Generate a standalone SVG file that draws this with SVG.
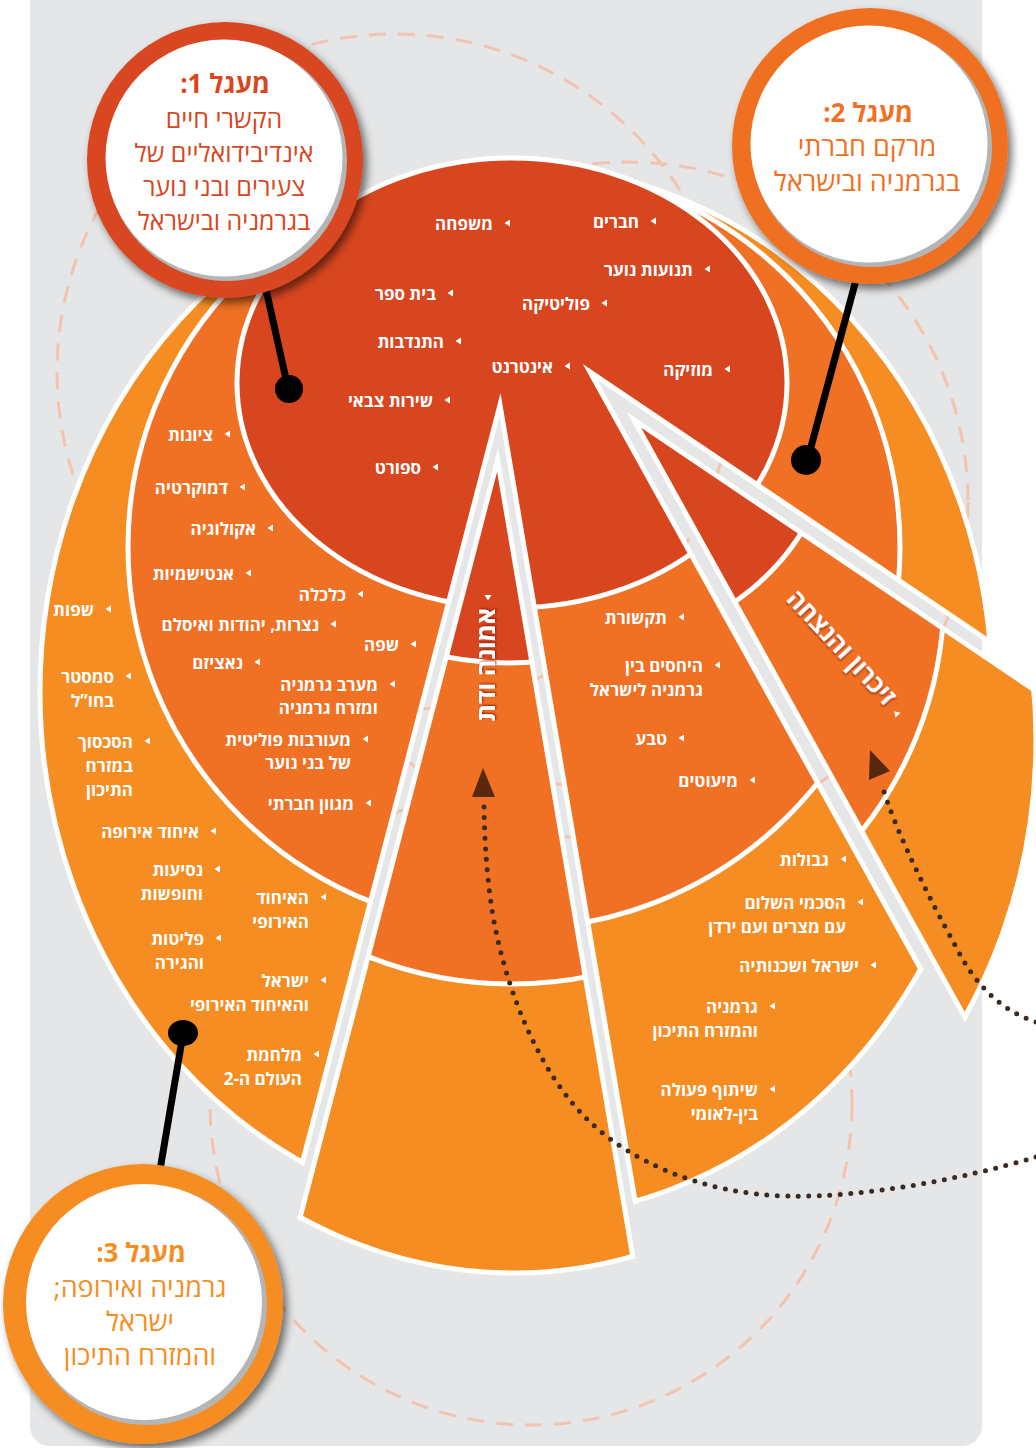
<svg xmlns="http://www.w3.org/2000/svg" width="1036" height="1448" viewBox="0 0 1036 1448">
<defs>
<style>
.t{font-family:'Open Sans','Liberation Sans','DejaVu Sans',sans-serif;font-weight:700;font-size:17px;fill:#fff;direction:rtl;text-anchor:start}
.dash{fill:none;stroke:#F2C4AF;stroke-width:3;stroke-dasharray:17 12}
.ring{stroke:#fff;stroke-width:5}
.edge{fill:none;stroke:#fff;stroke-width:5;stroke-linejoin:miter;stroke-miterlimit:20}
.dots{fill:none;stroke:#3B2A22;stroke-width:5;stroke-linecap:round;stroke-dasharray:0 10.5}
.pin{stroke:#000;stroke-width:7}
.bt{font-family:'Open Sans','Liberation Sans','DejaVu Sans',sans-serif;text-anchor:middle;direction:rtl}
.wl{font-family:'Open Sans','Liberation Sans','DejaVu Sans',sans-serif;font-weight:700;font-size:25px;fill:#fff;direction:rtl;text-anchor:start}
</style>
<clipPath id="bodyclip"><path clip-rule="evenodd" d="M0,0H1036V1448H0Z M500,405L228,1448L677,1448Z M590,372L1100,716L1186,1448Z"/></clipPath>
<clipPath id="n1"><path d="M500,405L228,1448L677,1448Z"/></clipPath>
<clipPath id="n2"><path d="M590,372L1100,716L1186,1448Z"/></clipPath>
<clipPath id="oe"><ellipse cx="516" cy="692" rx="479" ry="529"/></clipPath>
<g id="ells">
<ellipse cx="516" cy="692" rx="476" ry="526" fill="#F58D22" class="ring"/>
<ellipse cx="514" cy="547" rx="386" ry="382" fill="#F07024" class="ring"/>
<ellipse cx="512" cy="383" rx="275" ry="225" fill="#D84620" class="ring"/>
</g>
<path id="bul" d="M3,-3.5V3.5L-2.5,0Z" fill="#fff"/>
<filter id="sh" x="-20%" y="-20%" width="150%" height="150%"><feDropShadow dx="4" dy="5" stdDeviation="4" flood-color="#000" flood-opacity="0.55"/></filter>
<filter id="ts" x="-10%" y="-30%" width="120%" height="160%"><feDropShadow dx="1" dy="1" stdDeviation="0.8" flood-color="#7a1800" flood-opacity="0.9"/></filter>
</defs>

<rect x="30" y="-30" width="952" height="1476" rx="20" fill="#E5E6E7"/>

<g id="dashed-circles">
<circle class="dash" cx="395" cy="372" r="338"/>
<circle class="dash" cx="628" cy="502" r="340"/>
<circle class="dash" cx="531" cy="1104" r="321"/>
</g>

<g id="body">
<g clip-path="url(#bodyclip)"><use href="#ells"/></g>
<g clip-path="url(#oe)">
<path class="edge" d="M228,1448L500,405L677,1448"/>
<path class="edge" d="M1100,716L590,372L1186,1448"/>
</g>
</g>

<g id="wedge-faith" transform="translate(-2.4,55)">
<g clip-path="url(#n1)"><use href="#ells"/></g>
<g clip-path="url(#oe)"><path class="edge" d="M228,1448L500,405L677,1448"/></g>
</g>

<g id="wedge-memory" transform="translate(44,48)">
<g clip-path="url(#n2)"><use href="#ells"/></g>
<g clip-path="url(#oe)"><path class="edge" d="M1100,716L590,372L1186,1448"/></g>
</g>

<g id="connectors">
<path class="dots" d="M1036,1157 C960,1180 860,1198 787,1196 C700,1194 630,1160 590,1122 C540,1075 505,990 492,910 C486,870 484,830 484,800"/>
<polygon points="483,768 472,797 495,797" fill="#58280E"/>
<path class="dots" d="M1036,1022 C1000,1010 975,985 955,945 C930,900 895,830 882,785"/>
<polygon points="870,750 890,771 869,780" fill="#58280E"/>
<line class="pin" x1="265" y1="285" x2="288" y2="388"/><circle cx="289" cy="389" r="14"/>
<line class="pin" x1="856" y1="280" x2="808" y2="458"/><circle cx="806" cy="460" r="15"/>
<line class="pin" x1="160" y1="1170" x2="182" y2="1040"/><ellipse cx="183" cy="1033" rx="15" ry="13"/>
</g>

<g id="labels-inner">
<use href="#bul" x="653" y="221"/><text class="t" x="639" y="228">חברים</text>
<use href="#bul" x="507" y="223"/><text class="t" x="493" y="230">משפחה</text>
<use href="#bul" x="707" y="269"/><text class="t" x="693" y="276">תנועות נוער</text>
<use href="#bul" x="450" y="293"/><text class="t" x="436" y="300">בית ספר</text>
<use href="#bul" x="604" y="303"/><text class="t" x="590" y="310">פוליטיקה</text>
<use href="#bul" x="458" y="341"/><text class="t" x="444" y="348">התנדבות</text>
<use href="#bul" x="567" y="366"/><text class="t" x="553" y="373">אינטרנט</text>
<use href="#bul" x="727" y="369"/><text class="t" x="713" y="376">מוזיקה</text>
<use href="#bul" x="447" y="400"/><text class="t" x="433" y="407">שירות צבאי</text>
<use href="#bul" x="435" y="467"/><text class="t" x="421" y="474">ספורט</text>
</g>

<g id="labels-middle">
<use href="#bul" x="227" y="434"/><text class="t" x="213" y="441">ציונות</text>
<use href="#bul" x="242" y="487"/><text class="t" x="228" y="494">דמוקרטיה</text>
<use href="#bul" x="270" y="528"/><text class="t" x="256" y="535">אקולוגיה</text>
<use href="#bul" x="248" y="573"/><text class="t" x="234" y="580">אנטישמיות</text>
<use href="#bul" x="360" y="594"/><text class="t" x="346" y="601">כלכלה</text>
<use href="#bul" x="333" y="624"/><text class="t" x="319" y="631">נצרות, יהודות ואיסלם</text>
<use href="#bul" x="413" y="644"/><text class="t" x="399" y="651">שפה</text>
<use href="#bul" x="257" y="662"/><text class="t" x="243" y="669">נאציזם</text>
<use href="#bul" x="392" y="684"/><text class="t" x="378" y="691">מערב גרמניה<tspan x="378" dy="23">ומזרח גרמניה</tspan></text>
<use href="#bul" x="365" y="739"/><text class="t" x="351" y="746">מעורבות פוליטית<tspan x="351" dy="23">של בני נוער</tspan></text>
<use href="#bul" x="368" y="803"/><text class="t" x="354" y="810">מגוון חברתי</text>
<use href="#bul" x="681" y="617"/><text class="t" x="667" y="624">תקשורת</text>
<use href="#bul" x="717" y="665"/><text class="t" x="703" y="672">היחסים בין<tspan x="703" dy="24">גרמניה לישראל</tspan></text>
<use href="#bul" x="681" y="738"/><text class="t" x="667" y="745">טבע</text>
<use href="#bul" x="752" y="780"/><text class="t" x="738" y="787">מיעוטים</text>
</g>

<g id="labels-outer">
<use href="#bul" x="108" y="609"/><text class="t" x="94" y="616">שפות</text>
<use href="#bul" x="128" y="676"/><text class="t" x="114" y="683">סמסטר<tspan x="114" dy="24">בחו”ל</tspan></text>
<use href="#bul" x="147" y="741"/><text class="t" x="133" y="748">הסכסוך<tspan x="133" dy="24">במזרח</tspan><tspan x="133" dy="24">התיכון</tspan></text>
<use href="#bul" x="213" y="831"/><text class="t" x="199" y="838">איחוד אירופה</text>
<use href="#bul" x="217" y="869"/><text class="t" x="203" y="876">נסיעות<tspan x="203" dy="24">וחופשות</tspan></text>
<use href="#bul" x="218" y="938"/><text class="t" x="204" y="945">פליטות<tspan x="204" dy="24">והגירה</tspan></text>
<use href="#bul" x="323" y="897"/><text class="t" x="309" y="904">האיחוד<tspan x="309" dy="24">האירופי</tspan></text>
<use href="#bul" x="323" y="980"/><text class="t" x="309" y="987">ישראל<tspan x="309" dy="24">והאיחוד האירופי</tspan></text>
<use href="#bul" x="316" y="1054"/><text class="t" x="302" y="1061">מלחמת<tspan x="302" dy="24">העולם ה-2</tspan></text>
<use href="#bul" x="843" y="859"/><text class="t" x="829" y="866">גבולות</text>
<use href="#bul" x="860" y="902"/><text class="t" x="846" y="909">הסכמי השלום<tspan x="846" dy="24">עם מצרים ועם ירדן</tspan></text>
<use href="#bul" x="873" y="965"/><text class="t" x="859" y="972">ישראל ושכנותיה</text>
<use href="#bul" x="772" y="1006"/><text class="t" x="758" y="1013">גרמניה<tspan x="758" dy="24">והמזרח התיכון</tspan></text>
<use href="#bul" x="772" y="1089"/><text class="t" x="758" y="1096">שיתוף פעולה<tspan x="758" dy="24">בין-לאומי</tspan></text>
</g>

<g id="wedge-labels">
<use href="#bul" transform="translate(488,598) rotate(-90)"/>
<text class="wl" filter="url(#ts)" transform="translate(495,608) rotate(-90)">אמונה ודת</text>
<use href="#bul" transform="translate(896,713) rotate(47)"/>
<text class="wl" filter="url(#ts)" transform="translate(885,707) rotate(47)">זיכרון והנצחה</text>
</g>

<g id="badge1">
<circle cx="225" cy="160" r="138" fill="#D84620" filter="url(#sh)"/>
<circle cx="227" cy="161" r="120" fill="#B5B5B5"/>
<circle cx="224" cy="158" r="118.5" fill="#fff"/>
<text class="bt" x="225" y="93" font-size="26" font-weight="700" fill="#D84620">מעגל 1:</text>
<text class="bt" x="224" y="128" font-size="25" fill="#D84620">הקשרי חיים</text>
<text class="bt" x="224" y="162" font-size="25" fill="#D84620">אינדיבידואליים של</text>
<text class="bt" x="224" y="196" font-size="25" fill="#D84620">צעירים ובני נוער</text>
<text class="bt" x="224" y="230" font-size="25" fill="#D84620">בגרמניה ובישראל</text>
</g>

<g id="badge2">
<circle cx="870" cy="146" r="138" fill="#F07024" filter="url(#sh)"/>
<circle cx="872" cy="147" r="120" fill="#B5B5B5"/>
<circle cx="869" cy="144" r="118.5" fill="#fff"/>
<text class="bt" x="868" y="122" font-size="26" font-weight="700" fill="#F07024">מעגל 2:</text>
<text class="bt" x="867" y="156" font-size="27" fill="#F07024">מרקם חברתי</text>
<text class="bt" x="867" y="191" font-size="27" fill="#F07024">בגרמניה ובישראל</text>
</g>

<g id="badge3">
<circle cx="143" cy="1304" r="140" fill="#F58D22" filter="url(#sh)"/>
<circle cx="147" cy="1305" r="120" fill="#B5B5B5"/>
<circle cx="144" cy="1302" r="118" fill="#fff"/>
<text class="bt" x="141" y="1262" font-size="26" font-weight="700" fill="#F58D22">מעגל 3:</text>
<text class="bt" x="140" y="1297" font-size="27" fill="#F58D22">גרמניה ואירופה;</text>
<text class="bt" x="140" y="1331" font-size="27" fill="#F58D22">ישראל</text>
<text class="bt" x="140" y="1365" font-size="27" fill="#F58D22">והמזרח התיכון</text>
</g>
</svg>
